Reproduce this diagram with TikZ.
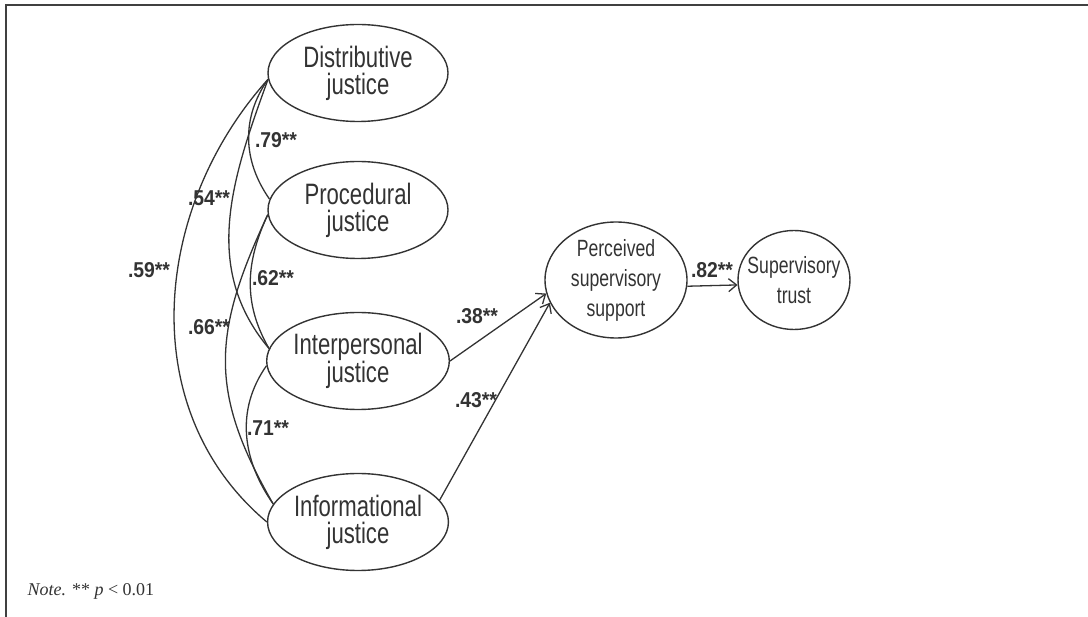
\documentclass[tikz,border=0pt]{standalone}
\usepackage{fontspec}
\setmainfont{Liberation Serif}
\newfontfamily\narrowsans[FakeStretch=0.75]{Liberation Sans}
\newfontfamily\coefsans[FakeStretch=0.9]{Liberation Sans}
\usetikzlibrary{shapes.geometric, arrows.meta}
\definecolor{ink}{gray}{0.2}
\tikzstyle{construct}=[ellipse, draw=ink, line width=1.4pt, text=ink, inner sep=0pt, align=center]
\tikzstyle{justice}=[construct, minimum width=180pt, minimum height=97pt, font=\narrowsans\fontsize{29.5}{27}\selectfont]
\tikzstyle{outcome}=[construct, font=\narrowsans\fontsize{23.5}{30}\selectfont]
\tikzstyle{corr}=[draw=ink, line width=1.3pt]
\tikzstyle{effect}=[draw=ink, line width=1.3pt, -{Straight Barb[length=8pt, width=13pt]}]
\tikzstyle{coef}=[text=ink, font=\coefsans\bfseries\fontsize{21.5}{22}\selectfont]
\tikzstyle{frame}=[draw=black!75, line width=2pt]

\begin{document}
\begin{tikzpicture}[x=1pt, y=1pt]
    \useasboundingbox (0,0) rectangle (1088,-617);
    \draw [frame] (1088,-5) -- (6,-5) -- (6,-617);
    \node [justice] (dj) at (358,-73) {Distributive\\justice};
    \node [justice] (pj) at (358,-210) {Procedural\\justice};
    \node [justice] (ipj) at (358,-361) {Interpersonal\\justice};
    \node [justice] (ifj) at (358,-522) {Informational\\justice};
    \node [outcome, minimum width=142pt, minimum height=116pt] (pss) at (616,-280) {Perceived\\supervisory\\support};
    \node [outcome, inner xsep=-8pt, minimum width=112pt, minimum height=99pt] (st) at (794,-280) {Supervisory\\trust};
    \draw [corr] (dj.184) to [out=235, in=125] (pj.173);
    \draw [corr] (dj.184) to [out=250, in=130] (ipj.172);
    \draw [corr] (dj.184) to [out=228, in=140] (ifj.180);
    \draw [corr] (pj.183) to [out=245, in=120] (ipj.172);
    \draw [corr] (pj.183) to [out=245, in=120, looseness=1.15] (ifj.168);
    \draw [corr] (ipj.183) to [out=235, in=125] (ifj.168);
    \node [coef] (c79) at (276,-140) {.79**};
    \node [coef] (c54) at (209,-198) {.54**};
    \node [coef] (c59) at (149,-270) {.59**};
    \node [coef] (c62) at (273,-278) {.62**};
    \node [coef] (c66) at (209,-327) {.66**};
    \node [coef] (c71) at (268,-428) {.71**};
    \draw [effect] (ipj.east) -- (pss.191);
    \draw [effect] (ifj.15) -- (pss.199);
    \draw [effect] (pss.355) -- (st.185);
    \node [coef] (c38) at (477,-316) {.38**};
    \node [coef] (c43) at (476,-400) {.43**};
    \node [coef] (c82) at (712,-270) {.82**};
    \node [anchor=base west, text=ink, font=\fontsize{18}{20}\selectfont] (note) at (24,-595) {\textit{Note.} ** \textit{p} < 0.01};
\end{tikzpicture}
\end{document}
